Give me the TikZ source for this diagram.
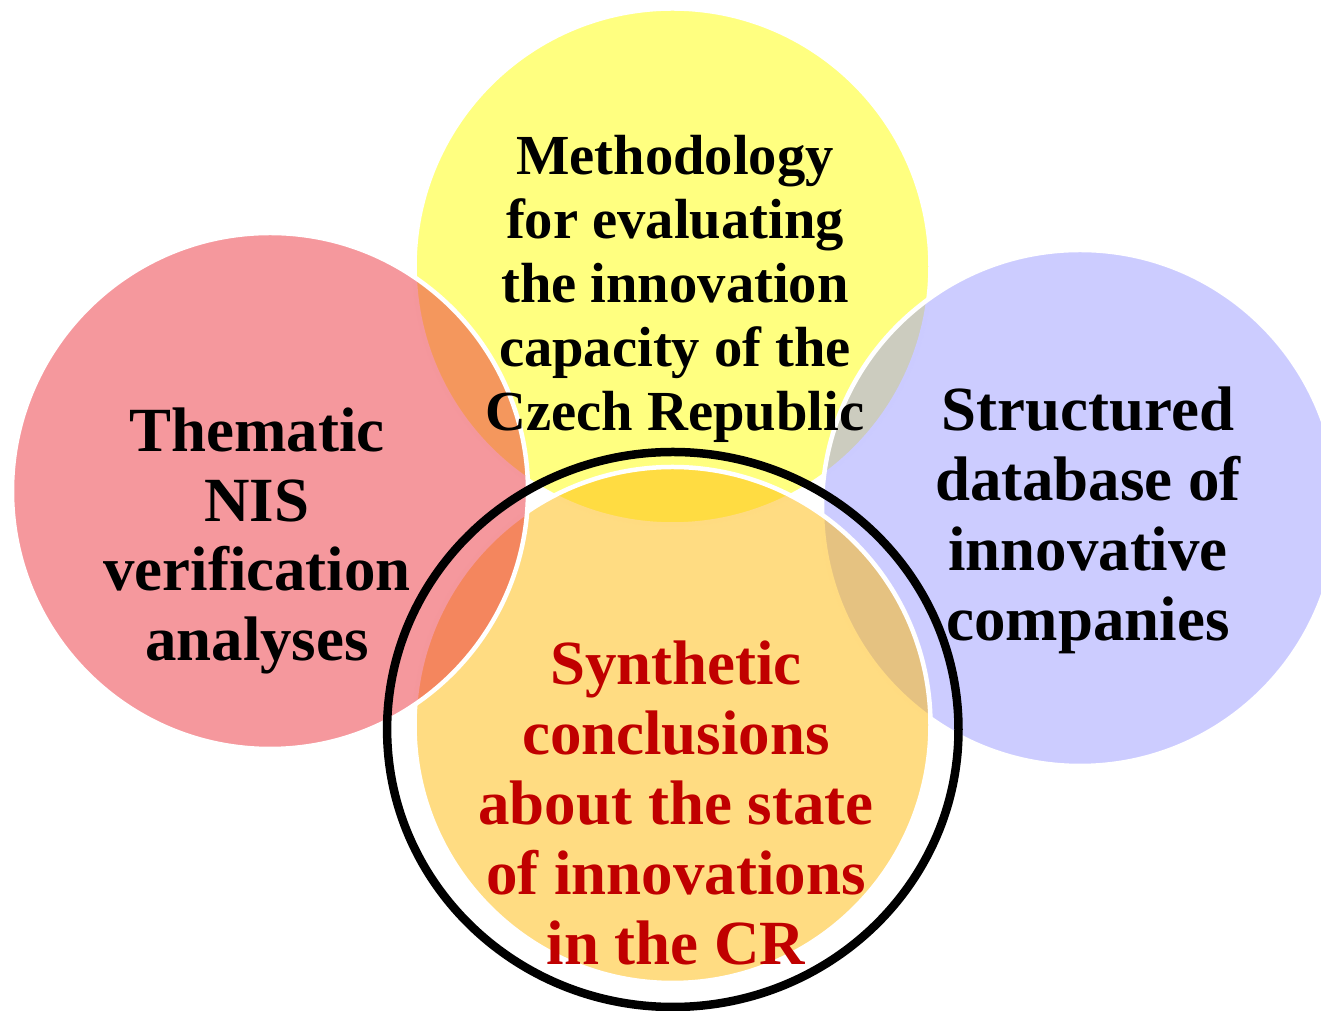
\documentclass[tikz,border=0pt]{standalone}
\usepackage{fontspec}
\setmainfont{Liberation Serif}
\usepackage{tikz}
\usetikzlibrary{shapes.geometric, positioning}

\definecolor{setRed}{RGB}{235,49,59}
\definecolor{setYellow}{RGB}{255,255,2}
\definecolor{setBlue}{RGB}{153,153,255}
\definecolor{setOrange}{RGB}{255,185,5}
\definecolor{conclRed}{RGB}{192,0,0}

\tikzset{
    venn/.style={circle, draw=white, line width=0.45mm, fill opacity=0.5, inner sep=0pt, minimum size=51.6mm},
    vennFrame/.style={ellipse, draw=black, line width=0.85mm, inner sep=0pt, minimum width=57.14mm, minimum height=55.5mm},
    bigLabel/.style={align=center, font=\bfseries\fontsize{17.9pt}{19.9pt}\selectfont},
    smallLabel/.style={align=center, font=\bfseries\fontsize{16.1pt}{18.2pt}\selectfont},
}
\newcommand{\vennSet}[3]{
    % 半透明圆, 白色描边
    \node[venn, fill=#3] (#1) at (#2) {};
}

\begin{document}
\begin{tikzpicture}
    \useasboundingbox (0,0) rectangle (13.21,-10.11);

    \vennSet{yellow}{6.725,-2.665}{setYellow}
    \vennSet{blue}{10.80,-5.08}{setBlue}
    \vennSet{orange}{6.725,-7.25}{setOrange}
    \vennSet{red}{2.70,-4.91}{setRed}

    \node[vennFrame] (frame) at (6.728,-7.295) {};

    \node[smallLabel] (yellowLabel) at (6.75,-2.89) {Methodology\\for evaluating\\the innovation\\capacity of the\\Czech Republic};
    \node[bigLabel] (redLabel) at (2.57,-5.41) {Thematic\\NIS\\verification\\analyses};
    \node[bigLabel] (blueLabel) at (10.88,-5.20) {Structured\\database of\\innovative\\companies};
    \node[bigLabel, text=conclRed] (orangeLabel) at (6.76,-8.03) {Synthetic\\conclusions\\about the state\\of innovations\\in the CR};

\end{tikzpicture}
\end{document}
